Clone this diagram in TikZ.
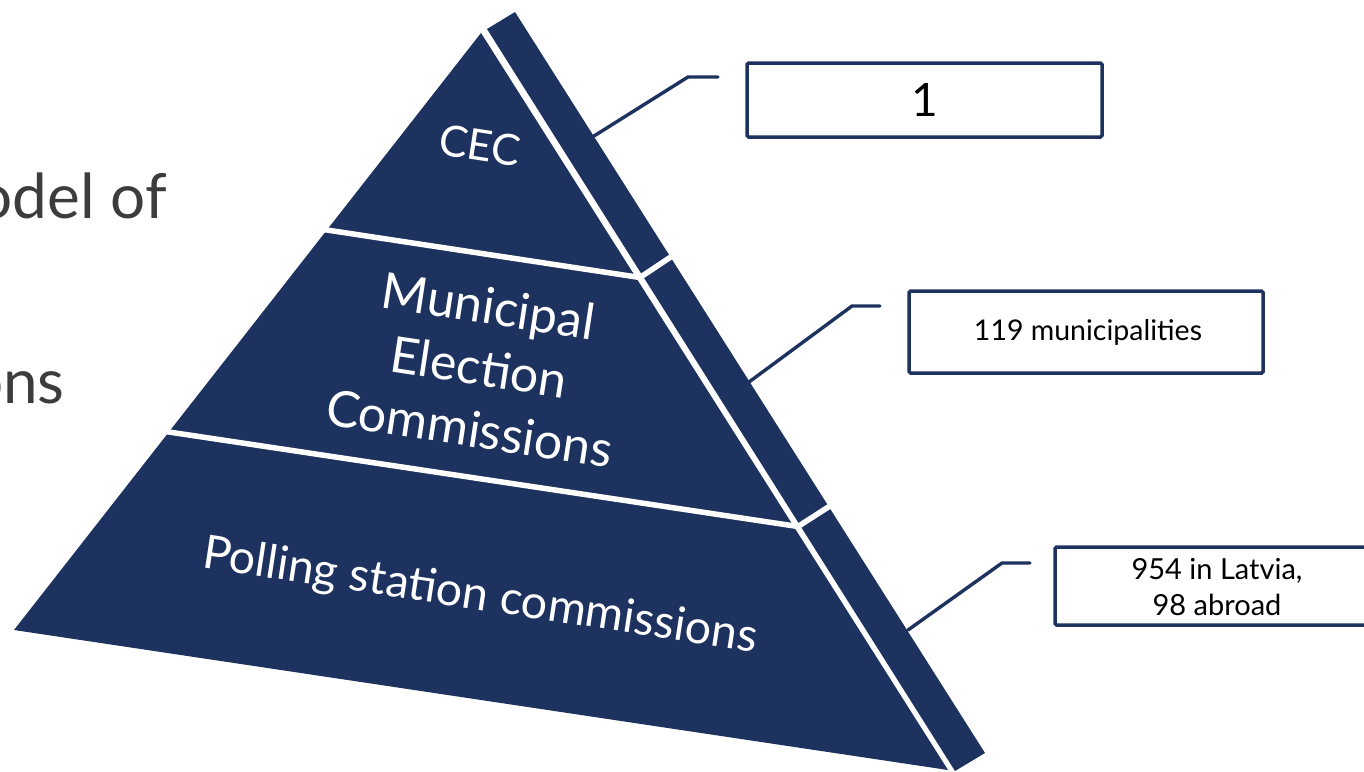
\documentclass[tikz,border=0pt]{standalone}
\usepackage{fontspec}
\setmainfont{Lato}
\definecolor{navy}{RGB}{29,50,94}
\definecolor{titlegrey}{RGB}{60,60,60}
\begin{document}
\begin{tikzpicture}[x=1pt,y=-1pt,
  tierfill/.style={fill=navy},
  cutline/.style={white,line width=5.5pt},
  leadline/.style={navy,line width=3.4pt,line cap=round},
  numbox/.style={draw=navy,line width=3.5pt,fill=white,rounded corners=1.5pt,inner sep=0pt},
  tierlabel/.style={text=white,align=center,rotate=-8.7,inner sep=0pt},
  boxtext/.style={text=black,align=center,inner sep=0pt},
  titletext/.style={text=titlegrey,inner sep=0pt,anchor=base east,font=\fontsize{62}{70}\selectfont}]
\useasboundingbox (0,0) rectangle (1364,771);
\clip (0,0) rectangle (1364,771);
% title fragments
\node[titletext] (t1) at (167,218) {odel of};
\node[titletext] (t2) at (65,403) {ons};
% pyramid front
\coordinate (A) at (481,33);
\coordinate (L) at (14,630);
\coordinate (R) at (948,770);
\fill[tierfill] (A) -- (R) -- (L) -- cycle;
% side strip
\coordinate (S1) at (487,29);
\coordinate (S2) at (515,12);
\coordinate (S3) at (985,753);
\coordinate (S4) at (955,771);
\fill[tierfill] (S1) -- (S2) -- (S3) -- (S4) -- cycle;
% tier dividers
\coordinate (d1a) at (315,228.2);
\coordinate (d1b) at (640,277.5);
\coordinate (d1c) at (673,255.5);
\coordinate (d2a) at (155,429.9);
\coordinate (d2b) at (798,526.5);
\coordinate (d2c) at (833,504);
\draw[cutline] (d1a) -- (d1b) -- (d1c);
\draw[cutline] (d2a) -- (d2b) -- (d2c);
% labels
\node[tierlabel,font=\fontsize{43}{50}\selectfont] (cec) at (480,145) {CEC};
\node[tierlabel,font=\fontsize{50}{62}\selectfont] (mec) at (479,367) {Municipal\\Election\\Commissions};
\node[tierlabel,font=\fontsize{46.5}{55}\selectfont] (psc) at (480,597) {Polling station commissions};
% boxes
\draw[numbox] (747,63) rectangle (1102,137);
\node[boxtext,font=\fontsize{46}{50}\selectfont] (b1) at (924.5,100) {1};
\draw[numbox] (909,291) rectangle (1263,373);
\node[boxtext,font=\fontsize{28.5}{34}\selectfont] (b2) at (1088,332) {119 municipalities};
\draw[numbox] (1055,547) rectangle (1379,625);
\node[boxtext,font=\fontsize{29}{36}\selectfont] (b3) at (1217,587) {954 in Latvia,\\98 abroad};
% leaders
\coordinate (c1s) at (594,136);
\coordinate (c1k) at (688,77);
\coordinate (c1e) at (718,77);
\coordinate (c2s) at (749,382);
\coordinate (c2k) at (852,306);
\coordinate (c2e) at (880,306);
\coordinate (c3s) at (908,630);
\coordinate (c3k) at (1002,563);
\coordinate (c3e) at (1030,563);
\draw[leadline] (c1s) -- (c1k) -- (c1e);
\draw[leadline] (c2s) -- (c2k) -- (c2e);
\draw[leadline] (c3s) -- (c3k) -- (c3e);
\end{tikzpicture}
\end{document}
